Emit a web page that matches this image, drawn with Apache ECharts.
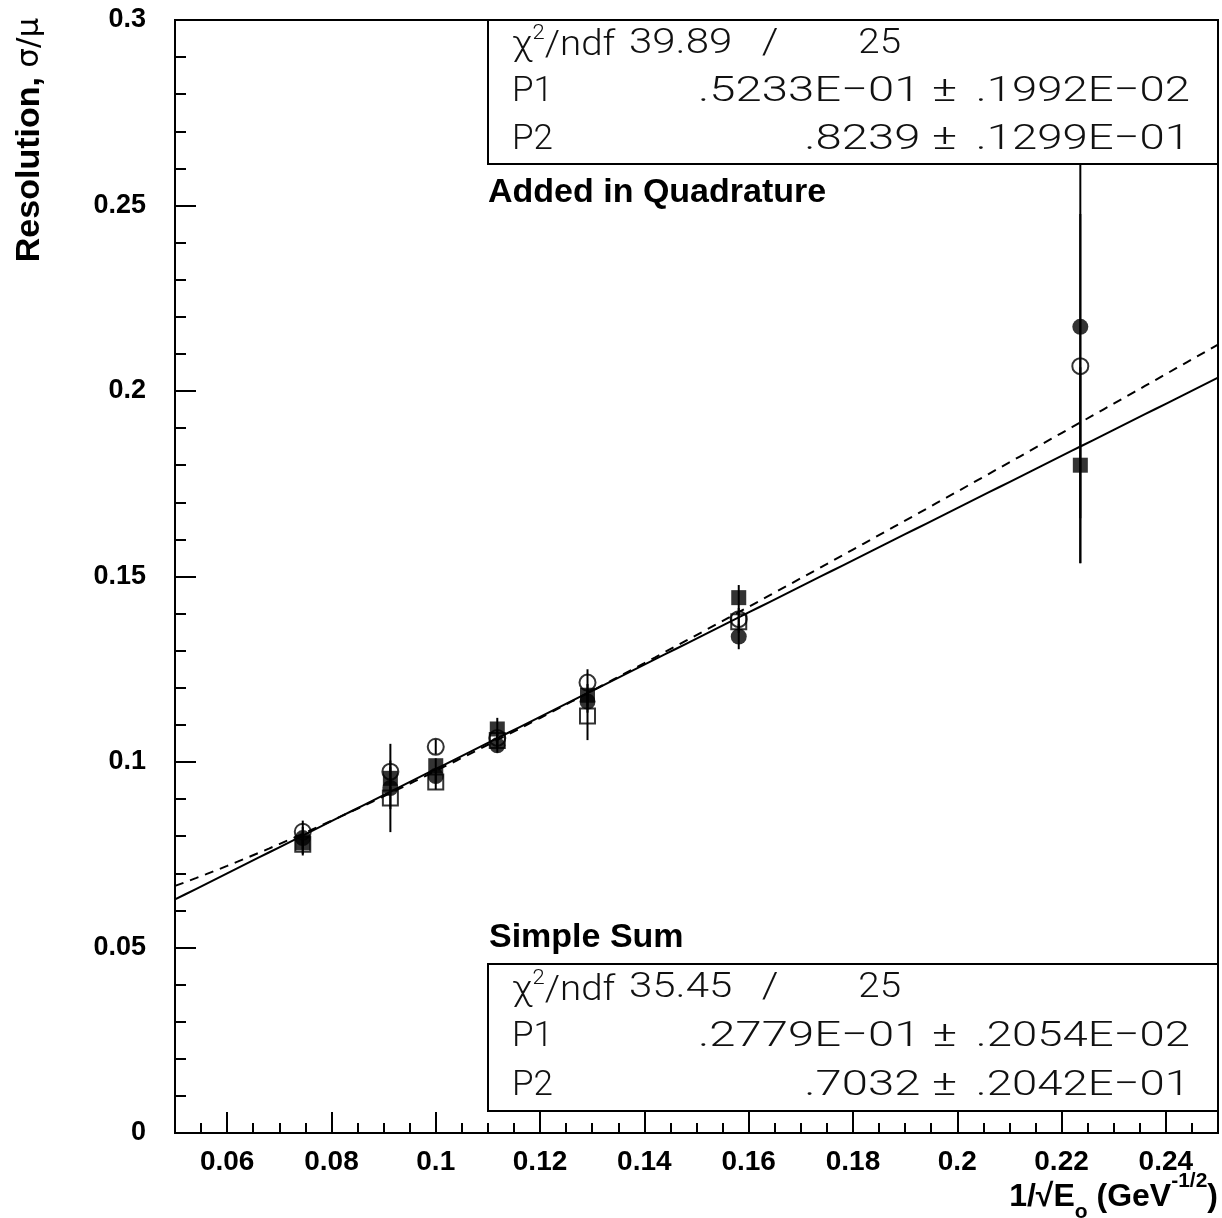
<!DOCTYPE html>
<html>
<head>
<meta charset="utf-8">
<title>Resolution vs 1/sqrt(E)</title>
<script src="https://cdn.jsdelivr.net/npm/echarts@6.0.0/dist/echarts.min.js"></script>
<style>
  html, body { margin: 0; padding: 0; background: #fff; }
  #chart { width: 1222px; height: 1218px; }
</style>
</head>
<body>
<div id="chart"></div>
<script>
// Beam energy points, 1/sqrt(E) in GeV^-1/2
const xVals = [0.0745, 0.0913, 0.1000, 0.1118, 0.1291, 0.1581, 0.2236];

// Measured resolution sigma/mu and errors for the four data sets
const filledCircleY   = [0.0795, 0.0930, 0.0962, 0.1045, 0.1163, 0.1338, 0.2173];
const filledCircleErr = [0.0030, 0.0119, 0.0020, 0.0020, 0.0030, 0.0034, 0.0637];
const openCircleY     = [0.0812, 0.0974, 0.1041, 0.1065, 0.1214, 0.1385, 0.2067];
const openCircleErr   = [0.0030, 0.0030, 0.0020, 0.0020, 0.0036, 0.0030, 0.0410];
const filledSquareY   = [0.0782, 0.0956, 0.0990, 0.1089, 0.1180, 0.1443, 0.1800];
const filledSquareErr = [0.0030, 0.0030, 0.0020, 0.0030, 0.0030, 0.0034, 0.0264];
const openSquareY     = [0.0778, 0.0903, 0.0946, 0.1058, 0.1124, 0.1378];
const openSquareErr   = [0.0030, 0.0030, 0.0020, 0.0020, 0.0065, 0.0030];

// Fit results
const quadChi2 = 39.89, quadNdf = 25;
const quadP1 = 0.05233, quadP1Err = 0.001992;
const quadP2 = 0.8239,  quadP2Err = 0.01299;
const sumChi2 = 35.45, sumNdf = 25;
const sumP1 = 0.02779, sumP1Err = 0.002054;
const sumP2 = 0.7032,  sumP2Err = 0.02042;

// Axis ticks
const xMin = 0.05, xMax = 0.25;
const xMajorTicks = [0.06, 0.08, 0.10, 0.12, 0.14, 0.16, 0.18, 0.20, 0.22, 0.24];
const xMinorStep = 0.005;

// ---- helpers ----
function zip(xs, ys, es) {
  return ys.map((y, i) => [xs[i], y, es[i]]);
}
// fit-panel number format: .5233E-01, .8239
function fitFmt(v) {
  const e = Math.floor(Math.log10(Math.abs(v))) + 1;
  const m = (v / Math.pow(10, e)).toFixed(4).replace(/^0/, '');
  if (e === 0) return m;
  const ae = Math.abs(e);
  return m + 'E' + (e < 0 ? '\u2212' : '+') + (ae < 10 ? '0' + ae : ae);
}

const xMinorTicks = [];
for (let k = 0; xMin + k * xMinorStep <= xMax + 1e-9; k++) {
  xMinorTicks.push(+(xMin + k * xMinorStep).toFixed(4));
}

// fit curves sampled across the axis range
const fitXs = [];
for (let k = 0; k <= 100; k++) fitXs.push(xMin + (xMax - xMin) * k / 100);
const sumCurve  = fitXs.map(x => [x, sumP1 + sumP2 * x]);
const quadCurve = fitXs.map(x => [x, Math.sqrt(quadP1 * quadP1 + quadP2 * quadP2 * x * x)]);

const errorBarSeries = (data) => ({
  type: 'custom',
  z: 3,
  silent: true,
  data: data,
  encode: { x: 0, y: 1 },
  renderItem: (params, api) => {
    const x = api.value(0), y = api.value(1), e = api.value(2);
    const a = api.coord([x, y - e]);
    const b = api.coord([x, y + e]);
    return {
      type: 'line',
      shape: { x1: a[0], y1: a[1], x2: b[0], y2: b[1] },
      style: { stroke: '#000', lineWidth: 2 }
    };
  }
});

const markerSeries = (name, data, symbol, size, filled) => ({
  name: name,
  type: 'scatter',
  z: 4,
  symbol: symbol,
  symbolSize: size,
  data: data.map(d => [d[0], d[1]]),
  itemStyle: filled
    ? { color: '#000' }
    : { color: 'rgba(0,0,0,0)', borderColor: '#000', borderWidth: 2 },
  emphasis: { disabled: true }
});

const fcData = zip(xVals, filledCircleY, filledCircleErr);
const ocData = zip(xVals, openCircleY, openCircleErr);
const fsData = zip(xVals, filledSquareY, filledSquareErr);
const osData = zip(xVals.slice(0, openSquareY.length), openSquareY, openSquareErr);

// ---- text styles ----
const boldFont = 'Liberation Sans, Arial, sans-serif';
const panelFont = 'Roboto, sans-serif';
const panelSize = 35;

function panelText(x, y, text, align, sx) {
  return {
    type: 'text', z: 101, x: x, y: y, scaleX: sx || 1,
    style: {
      text: text, fill: '#111',
      font: '300 ' + panelSize + 'px ' + panelFont,
      align: align || 'left', verticalAlign: 'middle'
    }
  };
}
function chiText(x, y) {
  return {
    type: 'text', z: 101, x: x, y: y, scaleX: 1.1,
    style: {
      text: '{n|\u03c7}{s|2}{n|/ndf}',
      align: 'left', verticalAlign: 'middle',
      rich: {
        n: { fontFamily: panelFont, fontWeight: 300, fontSize: panelSize, fill: '#111', lineHeight: 40, verticalAlign: 'bottom' },
        s: { fontFamily: panelFont, fontWeight: 300, fontSize: 20, fill: '#111', lineHeight: 24, verticalAlign: 'top' }
      }
    }
  };
}
function fitPanel(top, h, chi2, ndf, p1, p1e, p2, p2e) {
  const rows = [top + h / 6, top + h / 2, top + 5 * h / 6];
  return [
    { type: 'rect', z: 100, shape: { x: 488, y: top, width: 730, height: h },
      style: { fill: '#fff', stroke: '#000', lineWidth: 2 } },
    chiText(512, rows[0]),
    panelText(629, rows[0], chi2.toFixed(2), 'left', 1.2),
    panelText(770, rows[0], '/', 'center', 1.2),
    panelText(901, rows[0], String(ndf), 'right', 1.1),
    panelText(512, rows[1], 'P1', 'left', 1.0),
    panelText(957, rows[1], fitFmt(p1) + ' \u00b1', 'right', 1.35),
    panelText(1190, rows[1], fitFmt(p1e), 'right', 1.3),
    panelText(512, rows[2], 'P2', 'left', 1.0),
    panelText(957, rows[2], fitFmt(p2) + ' \u00b1', 'right', 1.35),
    panelText(1190, rows[2], fitFmt(p2e), 'right', 1.3)
  ];
}

const chart = echarts.init(document.getElementById('chart'), null, { renderer: 'canvas' });

chart.setOption({
  animation: false,
  backgroundColor: '#fff',
  grid: {
    left: 175, top: 20, right: 4, bottom: 85,
    show: true, borderColor: '#000', borderWidth: 2, backgroundColor: 'transparent'
  },
  xAxis: [
    {
      type: 'value', min: xMin, max: xMax, position: 'bottom',
      axisLine: { show: true, onZero: false, lineStyle: { color: '#000', width: 2 } },
      axisTick: { show: true, inside: true, length: 21, customValues: xMajorTicks, lineStyle: { color: '#000', width: 2 } },
      axisLabel: {
        show: true, margin: 15, customValues: xMajorTicks,
        formatter: v => String(+v.toFixed(2)),
        fontFamily: boldFont, fontWeight: 'bold', fontSize: 28, color: '#000'
      },
      splitLine: { show: false }
    },
    {
      type: 'value', min: xMin, max: xMax, position: 'bottom', offset: 0,
      axisLine: { show: false },
      axisTick: { show: true, inside: true, length: 10, customValues: xMinorTicks, lineStyle: { color: '#000', width: 2 } },
      axisLabel: { show: false },
      splitLine: { show: false }
    }
  ],
  yAxis: {
    type: 'value', min: 0, max: 0.3, interval: 0.05,
    axisLine: { show: true, onZero: false, lineStyle: { color: '#000', width: 2 } },
    axisTick: { show: true, inside: true, length: 21, lineStyle: { color: '#000', width: 2 } },
    minorTick: { show: true, splitNumber: 5, length: 11, lineStyle: { color: '#000', width: 2 } },
    axisLabel: { margin: 29, fontFamily: boldFont, fontWeight: 'bold', fontSize: 27, color: '#000' },
    splitLine: { show: false }
  },
  series: [
    errorBarSeries(fcData),
    errorBarSeries(ocData),
    errorBarSeries(fsData),
    errorBarSeries(osData),
    markerSeries('open circle', ocData, 'circle', 16, false),
    markerSeries('open square', osData, 'rect', 15, false),
    markerSeries('filled circle', fcData, 'circle', 16, true),
    markerSeries('filled square', fsData, 'rect', 15, true),
    {
      name: 'Simple Sum fit', type: 'line', z: 5, data: sumCurve,
      showSymbol: false, silent: true,
      lineStyle: { color: '#000', width: 2, type: 'solid' }
    },
    {
      name: 'Quadrature fit', type: 'line', z: 5, data: quadCurve,
      showSymbol: false, silent: true,
      lineStyle: { color: '#000', width: 2, type: [9, 7] }
    }
  ],
  graphic: [].concat(
    fitPanel(20, 144, quadChi2, quadNdf, quadP1, quadP1Err, quadP2, quadP2Err),
    fitPanel(964, 147, sumChi2, sumNdf, sumP1, sumP1Err, sumP2, sumP2Err),
    [
      { type: 'text', z: 101, x: 488, y: 193,
        style: { text: 'Added in Quadrature', font: 'bold 34px ' + boldFont, fill: '#000', align: 'left', verticalAlign: 'middle' } },
      { type: 'text', z: 101, x: 489, y: 938,
        style: { text: 'Simple Sum', font: 'bold 34px ' + boldFont, fill: '#000', align: 'left', verticalAlign: 'middle' } },
      // y axis title
      { type: 'text', z: 101, x: 30, y: 140, rotation: Math.PI / 2,
        style: {
          text: '{b|Resolution, }{s|\u03c3/\u03bc}', align: 'center', verticalAlign: 'middle',
          rich: {
            b: { fontFamily: boldFont, fontWeight: 'bold', fontSize: 34, fill: '#000' },
            s: { fontFamily: 'DejaVu Sans, sans-serif', fontWeight: 'normal', fontSize: 31, fill: '#000' }
          }
        } },
      // x axis title
      { type: 'text', z: 101, x: 1218, y: 1197,
        style: {
          text: '{b|1/\u221aE}{sub|o}{b| (GeV}{sup|-1/2}{b|)}', align: 'right', verticalAlign: 'middle',
          rich: {
            b: { fontFamily: boldFont, fontWeight: 'bold', fontSize: 32, fill: '#000', lineHeight: 52, verticalAlign: 'middle' },
            sub: { fontFamily: boldFont, fontWeight: 'bold', fontSize: 21, fill: '#000', lineHeight: 32, verticalAlign: 'bottom' },
            sup: { fontFamily: boldFont, fontWeight: 'bold', fontSize: 21, fill: '#000', lineHeight: 32, verticalAlign: 'top' }
          }
        } }
    ]
  )
});
</script>
</body>
</html>
